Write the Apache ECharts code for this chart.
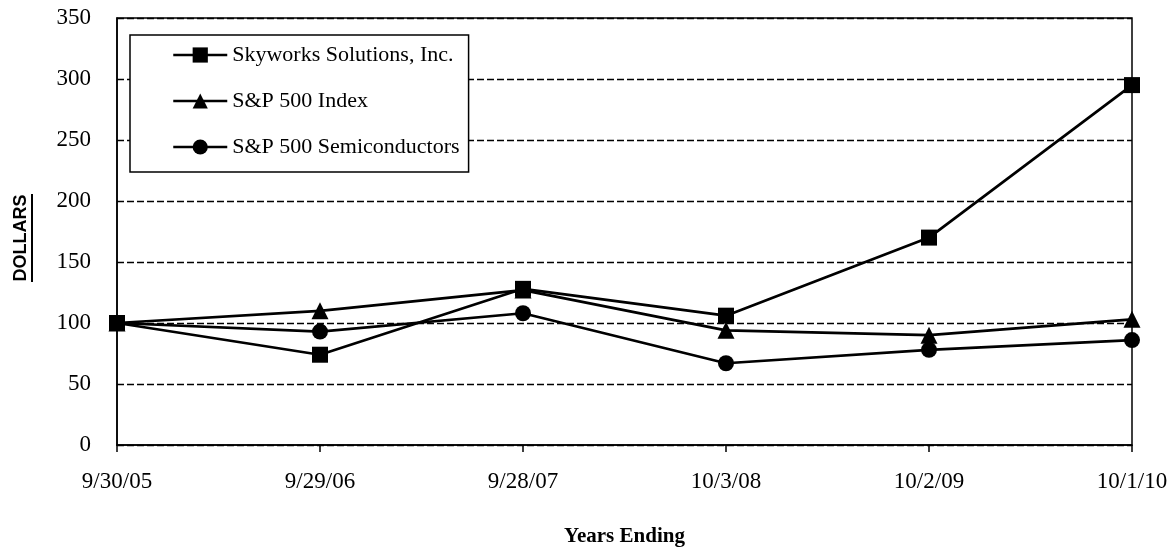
<!DOCTYPE html>
<html>
<head>
<meta charset="utf-8">
<script src="https://cdn.jsdelivr.net/npm/echarts@6/dist/echarts.min.js"></script>
<style>
html,body{margin:0;padding:0;background:#fff;}
#chart{width:1173px;height:547px;}
</style>
</head>
<body>
<div id="chart"></div>
<script>
var categories = ["9/30/05", "9/29/06", "9/28/07", "10/3/08", "10/2/09", "10/1/10"];
var skyworks = [100, 74, 128, 106, 170, 295];
var sp500 = [100, 110, 127, 94, 90, 103];
var semis = [100, 93, 108, 67, 78, 86];
var seriesNames = ["Skyworks Solutions, Inc.", "S&P 500 Index", "S&P 500 Semiconductors"];

var serif = '"Liberation Serif", "Times New Roman", serif';
var chart = echarts.init(document.getElementById('chart'), null, {renderer: 'canvas'});

function mkSeries(name, data, symbol, z) {
  return {
    name: name,
    type: 'line',
    data: data,
    symbol: symbol,
    symbolSize: symbol === 'triangle' ? 17 : 16,
    z: z,
    lineStyle: {color: '#000', width: 2.7},
    itemStyle: {color: '#000'},
    emphasis: {disabled: true},
    animation: false
  };
}

chart.setOption({
  backgroundColor: '#fff',
  animation: false,
  grid: {
    left: 117, right: 41, top: 18, bottom: 102,
    containLabel: false,
    outerBoundsMode: 'none',
    show: true, borderColor: '#000', borderWidth: 1.5, backgroundColor: 'transparent'
  },
  legend: {
    data: seriesNames,
    orient: 'vertical',
    left: 130, top: 35,
    itemWidth: 54, itemHeight: 19, itemGap: 24,
    padding: [9, 9, 14, 42],
    borderColor: '#000', borderWidth: 1.5,
    backgroundColor: '#fff',
    lineStyle: {color: '#000', width: 2.5},
    textStyle: {fontFamily: serif, fontSize: 22, color: '#000'},
    selectedMode: false
  },
  xAxis: {
    type: 'category',
    data: categories,
    boundaryGap: false,
    axisLine: {lineStyle: {color: '#000', width: 1.5}},
    axisTick: {show: true, length: 7, lineStyle: {color: '#000', width: 1.5}},
    axisLabel: {fontFamily: serif, fontSize: 23, color: '#000', margin: 25},
    splitLine: {show: false},
    name: 'Years Ending',
    nameLocation: 'middle',
    nameGap: 81,
    nameTextStyle: {fontFamily: serif, fontSize: 21, fontWeight: 'bold', color: '#000'}
  },
  yAxis: {
    type: 'value',
    min: 0, max: 350, interval: 50,
    axisLine: {show: true, lineStyle: {color: '#000', width: 1.5}},
    axisTick: {show: false},
    axisLabel: {fontFamily: serif, fontSize: 23, color: '#000', margin: 26},
    splitLine: {show: true, lineStyle: {color: '#000', width: 1.4, type: [7, 3]}}
  },
  graphic: [{
    type: 'group',
    x: 30, y: 238,
    rotation: Math.PI / 2,
    children: [
      {type: 'text', style: {text: 'DOLLARS', font: 'bold 18px "Liberation Sans", Arial, sans-serif', fill: '#000', align: 'center', verticalAlign: 'bottom'}},
      {type: 'rect', shape: {x: -44, y: 1, width: 88, height: 2}, style: {fill: '#000'}}
    ]
  }],
  series: [
    mkSeries(seriesNames[2], semis, 'circle', 2),
    mkSeries(seriesNames[1], sp500, 'triangle', 3),
    mkSeries(seriesNames[0], skyworks, 'rect', 4)
  ]
});
</script>
</body>
</html>
